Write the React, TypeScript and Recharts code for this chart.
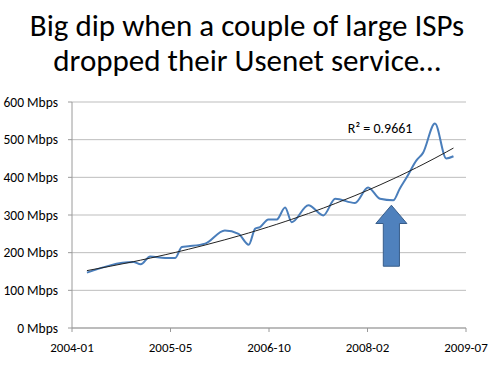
import React from 'react';
import { LineChart, Line, XAxis, YAxis, CartesianGrid, ReferenceArea, ReferenceDot } from 'recharts';

// month index counted from 2004-01 (=0)
const months = [2.5, 10.3, 11.5, 13.1, 15.6, 17.3, 18.4, 19.5, 22.3, 25.6, 27.9, 29.6, 30.7, 31.5, 32.9, 34.3, 35.7, 36.8, 39.6, 42.1, 44.1, 47.4, 49.6, 51.6, 53.8, 54.9, 56.1, 57.7, 58.8, 60.8, 62.7, 63.9];
const mbps = [147, 175, 169, 190, 186, 186, 215, 217, 224, 259, 250, 221, 264, 268, 288, 288, 320, 281, 326, 299, 343, 332, 373, 343, 339, 370, 401, 445, 465, 543, 450, 456];

const xTickValues = [0, 16.5, 33, 49.5, 66];
const xTickLabels = ['2004-01', '2005-05', '2006-10', '2008-02', '2009-07'];
const yTicks = [0, 100, 200, 300, 400, 500, 600];

const titleLines = ['Big dip when a couple of large ISPs', 'dropped their Usenet service…'];
const r2Text = 'R² = 0.9661';

// annotation arrow box (month index / Mbps)
const arrowBox = { x1: 50.9, x2: 56.1, y1: 164, y2: 326 };
const r2Pos = { x: 46.2, y: 529 };

// exponential trendline fitted from the data (least squares on ln y)
function expFit(xs: number[], ys: number[]) {
  const n = xs.length;
  let sx = 0, sy = 0, sxx = 0, sxy = 0;
  for (let i = 0; i < n; i++) {
    const ly = Math.log(ys[i]);
    sx += xs[i]; sy += ly; sxx += xs[i] * xs[i]; sxy += xs[i] * ly;
  }
  const b = (n * sxy - sx * sy) / (n * sxx - sx * sx);
  const a = (sy - b * sx) / n;
  return (x: number) => Math.exp(a + b * x);
}
const fit = expFit(months, mbps);
const data = months.map((m, i) => ({ m, v: mbps[i], trend: fit(m) }));

const FONT = 'Carlito, Calibri, Lato, sans-serif';

const Arrow = (props: any) => {
  const { x, y, width: w, height: h } = props;
  const headH = h * 0.3;
  const s1 = x + w * 0.24;
  const s2 = x + w * 0.76;
  const pts = [
    [x + w / 2, y],
    [x + w, y + headH],
    [s2, y + headH],
    [s2, y + h],
    [s1, y + h],
    [s1, y + headH],
    [x, y + headH],
  ].map((p) => p.join(',')).join(' ');
  return <polygon points={pts} fill="#4F81BD" stroke="#385D8A" strokeWidth={1} />;
};

const R2Label = (props: any) => (
  <text x={props.cx} y={props.cy} dominantBaseline="central" textAnchor="start" fontSize={14} fontFamily={FONT} fill="#000">
    {r2Text}
  </text>
);

export default function App() {
  return (
    <div style={{ position: 'absolute', left: 0, top: 0, width: 500, height: 378, background: '#fff', fontFamily: FONT }}>
      <div style={{ position: 'absolute', left: 0, top: 8, width: 494, textAlign: 'center', fontSize: 31, lineHeight: '35px', color: '#000' }}>
        {titleLines.map((t) => (
          <div key={t}>{t}</div>
        ))}
      </div>
      <div style={{ position: 'absolute', left: 0, top: 0 }}>
        <LineChart width={500} height={378} data={data} margin={{ top: 102, right: 34, bottom: 20, left: 0 }}>
          <CartesianGrid vertical={false} stroke="#bdbdbd" strokeWidth={1} />
          <XAxis
            dataKey="m"
            type="number"
            domain={[0, 66]}
            ticks={xTickValues}
            tickFormatter={(v: number) => xTickLabels[xTickValues.indexOf(v)]}
            height={30}
            tickSize={4}
            tickMargin={11}
            stroke="#9a9a9a"
            tick={{ fill: '#000', fontSize: 13, fontFamily: FONT }}
            interval={0}
          />
          <YAxis
            type="number"
            domain={[0, 600]}
            ticks={yTicks}
            tickFormatter={(v: number) => `${v} Mbps`}
            width={72}
            tickSize={4}
            tickMargin={10}
            stroke="#9a9a9a"
            tick={{ fill: '#000', fontSize: 13.5, fontFamily: FONT }}
            interval={0}
          />
          <ReferenceArea x1={arrowBox.x1} x2={arrowBox.x2} y1={arrowBox.y1} y2={arrowBox.y2} shape={<Arrow />} ifOverflow="visible" />
          <Line type="monotone" dataKey="v" stroke="#4A7EBB" strokeWidth={2} dot={false} isAnimationActive={false} />
          <Line type="monotone" dataKey="trend" stroke="#222" strokeWidth={1} dot={false} isAnimationActive={false} />
          <ReferenceDot x={r2Pos.x} y={r2Pos.y} r={0} shape={<R2Label />} ifOverflow="visible" />
        </LineChart>
      </div>
    </div>
  );
}
